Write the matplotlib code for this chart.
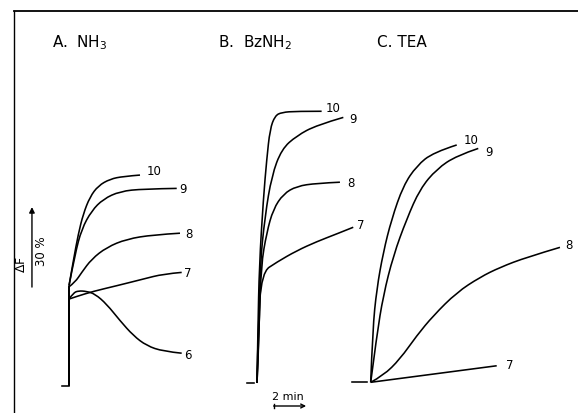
import matplotlib
matplotlib.use("Agg")
import matplotlib.pyplot as plt
from matplotlib.lines import Line2D
from matplotlib.path import Path
from matplotlib.patches import PathPatch

# Fluorescence traces, time in min after addition, delta F in %.
# Labels are the pH of each trace.

# A. NH3 (the first two points of each trace are the jump on addition)
a_labels = ["10", "9", "8", "7", "6"]
a_t = [
    [0, 0, .28, .60, .92, 1.35, 1.89, 2.65, 3.50, 4.58],
    [0, 0, .39, .82, 1.46, 2.21, 3.29, 4.79, 6.95],
    [0, 0, .39, .82, 1.46, 2.43, 3.72, 5.44, 7.16],
    [0, 0, .50, 1.57, 3.08, 4.79, 6.08, 7.27],
    [0, 0, .28, .60, 1.14, 1.68, 2.43, 3.29, 4.15, 5.01, 6.08, 7.27],
]
a_f = [
    [0, 37.6, 47.0, 57.0, 64.5, 70.9, 75.1, 77.6, 78.6, 79.1],
    [0, 37.6, 49.5, 58.9, 65.7, 70.1, 73.0, 73.9, 74.1],
    [0, 37.2, 38.9, 42.6, 47.6, 52.0, 55.1, 56.7, 57.3],
    [0, 32.6, 33.6, 35.5, 37.6, 40.1, 42.0, 42.6],
    [0, 32.6, 34.9, 35.7, 35.5, 34.5, 30.7, 24.5, 18.9, 15.1, 13.0, 12.3],
]

# B. BzNH2
b_labels = ["10", "9", "8", "7"]
b_t = [
    [0, .06, .15, .41, .63, .84, 1.16, 1.59, 2.56, 4.17],
    [0, .16, .19, .52, .95, 1.59, 2.56, 3.85, 5.57],
    [0, .13, .26, .63, 1.05, 1.70, 2.56, 3.85, 5.35],
    [0, .06, .30, 1.27, 2.56, 3.85, 5.14, 6.21],
]
b_f = [
    [0, 20.2, 44.2, 69.0, 84.0, 95.2, 100.2, 101.5, 101.9, 101.9],
    [0, 20.2, 44.0, 62.7, 77.7, 87.7, 92.7, 96.7, 99.6],
    [0, 20.2, 44.0, 56.5, 65.2, 70.9, 73.8, 74.9, 75.3],
    [0, 20.2, 41.5, 45.3, 49.6, 53.0, 55.9, 58.4],
]

# C. TEA
c_labels = ["10", "9", "8", "7"]
c_t = [
    [0, .13, .39, .81, 1.35, 2.10, 2.97, 4.04, 5.55],
    [0, .39, .81, 1.46, 2.32, 3.18, 4.26, 5.55, 6.94],
    [0, .81, 1.89, 2.97, 4.04, 5.55, 7.05, 8.34, 10.06, 12.21],
    [0, 8.13],
]
c_f = [
    [0, 20.0, 35.0, 48.7, 61.2, 73.7, 81.2, 86.2, 89.0],
    [0, 17.5, 32.5, 47.5, 61.2, 72.5, 80.0, 85.0, 87.7],
    [0, 2.5, 8.7, 17.5, 25.0, 33.7, 39.4, 43.1, 46.9, 50.6],
    [0, 6.2],
]

W, H = 578, 414
PX_MIN = 15.5     # pixels per minute
PX_PCT = 80 / 30  # pixels per % delta F
X0, Y0 = 69, 387  # panel A origin in pixels

fig = plt.figure(figsize=(W / 100, H / 100), dpi=100)
ax = fig.add_axes([0, 0, 1, 1])
ax.set_xlim(-X0 / PX_MIN, (W - X0) / PX_MIN)
ax.set_ylim((Y0 - H) / PX_PCT, Y0 / PX_PCT)
ax.axis("off")

lw = 1.15


def smooth_line(xs, ys):
    # quadratic bezier through the midpoints, read points used as control points
    pts = list(zip(xs, ys))
    if len(pts) < 3:
        return Path(pts)
    verts = [pts[0]]
    codes = [Path.MOVETO]
    for i in range(1, len(pts) - 1):
        if i == len(pts) - 2:
            end = pts[-1]
        else:
            end = ((pts[i][0] + pts[i + 1][0]) / 2, (pts[i][1] + pts[i + 1][1]) / 2)
        verts += [pts[i], end]
        codes += [Path.CURVE3, Path.CURVE3]
    return Path(verts, codes)


def draw_panel(ts, fs, labels, dx, dy, tick, offsets, jump):
    for t, f, lab, off in zip(ts, fs, labels, offsets):
        xs = [v + dx for v in t]
        ys = [v + dy for v in f]
        if jump:
            ax.plot(xs[:2], ys[:2], color="black", lw=lw, solid_capstyle="butt")
            xs, ys = xs[1:], ys[1:]
        ax.add_patch(PathPatch(smooth_line(xs, ys), facecolor="none",
                               edgecolor="black", lw=lw))
        ax.annotate(lab, (xs[-1], ys[-1]), xytext=off, textcoords="offset points",
                    ha="left", va="center", fontsize=8.5)
    ax.plot([tick[0] + dx, tick[1] + dx], [dy, dy], color="black", lw=lw)


draw_panel(a_t, a_f, a_labels, 0, 0, (-0.45, 0),
           [(5, 3), (2, 0), (4, 0), (2, 0), (2, -1)], True)
draw_panel(b_t, b_f, b_labels, (257 - X0) / PX_MIN, (Y0 - 384) / PX_PCT, (-0.65, -0.2),
           [(3, 3), (4, -1), (5, 0), (3, 2)], False)
draw_panel(c_t, c_f, c_labels, (370.7 - X0) / PX_MIN, (Y0 - 383.3) / PX_PCT, (-1.2, -0.25),
           [(5, 4), (5, -2), (4, 2), (7, 1)], False)

# delta F scale bar (30 %)
ax.annotate("", xy=(-2.39, 67.1), xytext=(-2.39, 37.1),
            arrowprops=dict(arrowstyle="-|>", color="black", lw=1.0,
                            mutation_scale=8, shrinkA=0, shrinkB=0))
ax.text(-3.05, 46.0, r"$\Delta$F", rotation=90, ha="center", va="center", fontsize=9)
ax.text(-1.8, 51.0, "30 %", rotation=90, ha="center", va="center", fontsize=8.5)

# time scale bar (2 min)
ax.annotate("", xy=(15.3, -7.5), xytext=(13.2, -7.5),
            arrowprops=dict(arrowstyle="->", color="black", lw=1.0,
                            mutation_scale=7, shrinkA=0, shrinkB=0))
ax.plot([13.2, 13.2], [-8.3, -6.7], color="black", lw=1.0)
ax.text(14.1, -3.6, "2 min", ha="center", va="center", fontsize=8)

# panel titles
fig.text(52 / W, 1 - 47 / H, r"A.  NH$_3$", fontsize=11, va="baseline")
fig.text(218 / W, 1 - 47 / H, r"B.  BzNH$_2$", fontsize=11, va="baseline")
fig.text(377 / W, 1 - 47 / H, "C. TEA", fontsize=11, va="baseline")

# frame (top and left edges)
fig.add_artist(Line2D([14 / W, 1], [1 - 12 / H, 1 - 12 / H], color="black", lw=1.3))
fig.add_artist(Line2D([14 / W, 14 / W], [0, 1 - 12 / H], color="black", lw=1.0))

fig.savefig("out.png", dpi=100, facecolor="white")
